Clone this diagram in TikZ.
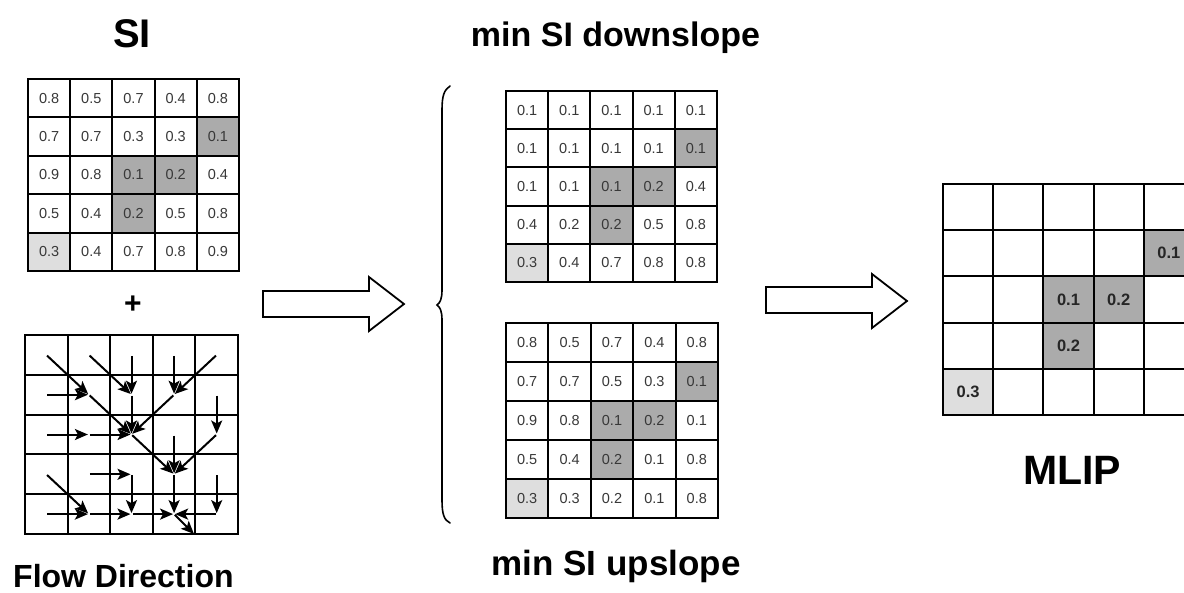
\documentclass[tikz,border=0pt]{standalone}
\usepackage{fontspec}
\setmainfont{Liberation Sans}
\usetikzlibrary{arrows.meta}

\definecolor{cw}{gray}{1}
\definecolor{cd}{gray}{0.67}
\definecolor{cl}{gray}{0.87}
\definecolor{numgray}{gray}{0.22}

\tikzset{
  title/.style={font=\fontsize{#1}{#1}\selectfont\bfseries, inner sep=0pt, anchor=base},
  cell/.style={draw=black, line width=2pt, inner sep=0pt, outer sep=0pt},
  cellnum/.style={font=\fontsize{14.5}{14.5}\selectfont, text=numgray},
  cellbold/.style={font=\fontsize{16.5}{16.5}\selectfont\bfseries, text=black!85},
  flowarrow/.style={line width=2pt, -{Stealth[length=13pt,width=11pt,inset=3pt]}, shorten >=1pt, shorten <=1pt},
  blockarrow/.style={draw=black, line width=1.8pt, fill=white, line join=miter},
  bracepath/.style={draw=black, line width=1.6pt, line cap=round},
}

% #1 name, #2 x0, #3 y0, #4 cell width, #5 cell height, #6 style for text, #7 rows of value/fill
\newcommand{\valuegrid}[7]{%
  \foreach \row [count=\r from 0] in {#7} {
    \foreach \v/\f [count=\c from 0] in \row {
      \node[cell, #6, fill=\f, minimum width=#4pt, minimum height=#5pt]
        (#1-\r-\c) at ({#2+(\c+0.5)*#4},{#3+(\r+0.5)*#5}) {\v};
    }
  }%
}

\begin{document}
\begin{tikzpicture}[x=1pt,y=-1pt]
\useasboundingbox (0,0) rectangle (1184,592);
\fill[white] (0,0) rectangle (1184,592);
\clip (0,0) rectangle (1184,592);

% ---------- titles ----------
\node[title=40] (t-si) at (132,47) {SI};
\node[title=34] (t-down) at (615.5,46) {min SI downslope};
\node[title=35] (t-up) at (616,575) {min SI upslope};
\node[title=32, anchor=base west] (t-flow) at (13,587) {Flow Direction};
\node[title=41] (t-mlip) at (1072,484) {MLIP};
\node[title=30, anchor=center] (plus) at (133,305) {+};

% ---------- SI grid ----------
\valuegrid{si}{28}{79}{42.2}{38.4}{cellnum}{
  {0.8/cw,0.5/cw,0.7/cw,0.4/cw,0.8/cw},
  {0.7/cw,0.7/cw,0.3/cw,0.3/cw,0.1/cd},
  {0.9/cw,0.8/cw,0.1/cd,0.2/cd,0.4/cw},
  {0.5/cw,0.4/cw,0.2/cd,0.5/cw,0.8/cw},
  {0.3/cl,0.4/cw,0.7/cw,0.8/cw,0.9/cw}}

% ---------- flow direction grid ----------
\valuegrid{fd}{25}{335}{42.6}{39.8}{cellnum}{
  {{}/cw,{}/cw,{}/cw,{}/cw,{}/cw},
  {{}/cw,{}/cw,{}/cw,{}/cw,{}/cw},
  {{}/cw,{}/cw,{}/cw,{}/cw,{}/cw},
  {{}/cw,{}/cw,{}/cw,{}/cw,{}/cw},
  {{}/cw,{}/cw,{}/cw,{}/cw,{}/cw}}
\coordinate (fd-out) at (194,534);

% flow arrows: source cell -> receiving cell (row-col)
\foreach \a/\b in {0-0/1-1, 0-1/1-2, 0-2/1-2, 0-3/1-3, 0-4/1-3,
                   1-0/1-1, 1-1/2-2, 1-2/2-2, 1-3/2-2, 1-4/2-4,
                   2-0/2-1, 2-1/2-2, 2-2/3-3, 2-3/3-3, 2-4/3-3,
                   3-0/4-1, 3-1/3-2, 3-2/4-2, 3-3/4-3, 3-4/4-4,
                   4-0/4-1, 4-1/4-2, 4-2/4-3, 4-4/4-3}
  \draw[flowarrow] (fd-\a.center) -- (fd-\b.center);
\draw[flowarrow, shorten >=0pt] (fd-4-3.center) -- (fd-out);

% ---------- first block arrow ----------
\draw[blockarrow] (263,291) -- (369,291) -- (369,277) -- (404,304)
  -- (369,331) -- (369,317) -- (263,317) -- cycle;

% ---------- brace ----------
\draw[bracepath] (450,86) .. controls (444,90) and (442,96) .. (442,110)
  -- (442,290) .. controls (442,299) and (440,303) .. (437,305)
  .. controls (440,307) and (442,311) .. (442,320)
  -- (442,500) .. controls (442,514) and (444,520) .. (450,523);

% ---------- downslope grid ----------
\valuegrid{dn}{506}{91}{42.2}{38.2}{cellnum}{
  {0.1/cw,0.1/cw,0.1/cw,0.1/cw,0.1/cw},
  {0.1/cw,0.1/cw,0.1/cw,0.1/cw,0.1/cd},
  {0.1/cw,0.1/cw,0.1/cd,0.2/cd,0.4/cw},
  {0.4/cw,0.2/cw,0.2/cd,0.5/cw,0.8/cw},
  {0.3/cl,0.4/cw,0.7/cw,0.8/cw,0.8/cw}}

% ---------- upslope grid ----------
\valuegrid{up}{506}{323}{42.4}{39}{cellnum}{
  {0.8/cw,0.5/cw,0.7/cw,0.4/cw,0.8/cw},
  {0.7/cw,0.7/cw,0.5/cw,0.3/cw,0.1/cd},
  {0.9/cw,0.8/cw,0.1/cd,0.2/cd,0.1/cw},
  {0.5/cw,0.4/cw,0.2/cd,0.1/cw,0.8/cw},
  {0.3/cl,0.3/cw,0.2/cw,0.1/cw,0.8/cw}}

% ---------- second block arrow ----------
\draw[blockarrow] (766,287) -- (872,287) -- (872,274) -- (907,301)
  -- (872,328) -- (872,313) -- (766,313) -- cycle;

% ---------- MLIP grid ----------
\valuegrid{ml}{943}{184}{50.2}{46.2}{cellbold}{
  {{}/cw,{}/cw,{}/cw,{}/cw,{}/cw},
  {{}/cw,{}/cw,{}/cw,{}/cw,0.1/cd},
  {{}/cw,{}/cw,0.1/cd,0.2/cd,{}/cw},
  {{}/cw,{}/cw,0.2/cd,{}/cw,{}/cw},
  {0.3/cl,{}/cw,{}/cw,{}/cw,{}/cw}}
\end{tikzpicture}
\end{document}
